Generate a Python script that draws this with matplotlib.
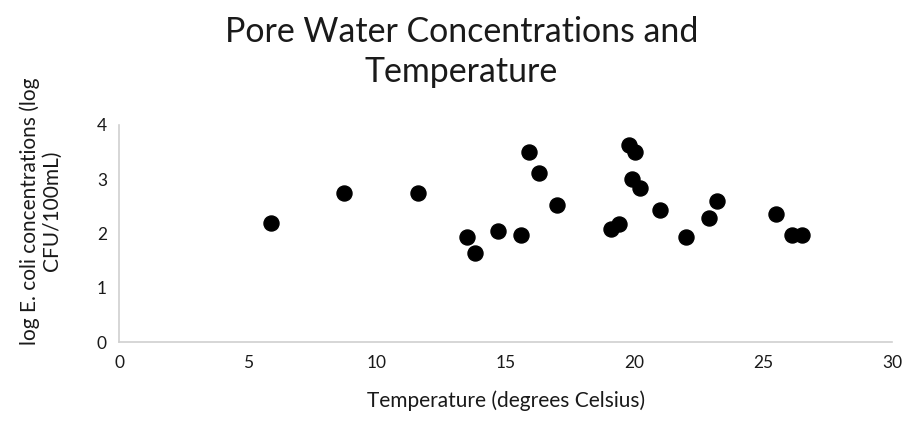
import matplotlib.pyplot as plt

# Données
temperature = [5.9, 8.7, 11.6, 13.5, 13.8, 14.7, 15.6, 15.9, 16.3, 17.0,
               19.1, 19.4, 19.8, 20.0, 19.9, 20.2, 21.0, 22.0, 22.9, 23.2,
               25.5, 26.1, 26.5]
log_ecoli = [2.19, 2.74, 2.74, 1.94, 1.64, 2.04, 1.98, 3.51, 3.11, 2.52,
             2.09, 2.18, 3.64, 3.51, 3.01, 2.84, 2.44, 1.94, 2.29, 2.61,
             2.37, 1.97, 1.97]

x_ticks = [0, 5, 10, 15, 20, 25, 30]
y_ticks = [0, 1, 2, 3, 4]

plt.rcParams['font.family'] = ['Lato', 'DejaVu Sans']

fig = plt.figure(figsize=(9.08, 4.25), dpi=100)
ax = fig.add_axes([0.1316, 0.1946, 0.8508, 0.5113])

ax.scatter(temperature, log_ecoli, s=117, color='black', zorder=3)

ax.set_xlim(0, 30)
ax.set_ylim(0, 4)
ax.set_xticks(x_ticks)
ax.set_yticks(y_ticks)
ax.tick_params(length=0, labelsize=12.5, labelcolor='#1a1a1a', pad=9)

for side in ['top', 'right']:
    ax.spines[side].set_visible(False)
for side in ['left', 'bottom']:
    ax.spines[side].set_color('#d0d0d0')
    ax.spines[side].set_linewidth(1.2)

ax.set_xlabel('Temperature (degrees Celsius)', fontsize=15, color='#1a1a1a', labelpad=14)

# Titre de l'axe Y placé à la main (décalé vers le haut comme dans Excel)
fig.text(0.045, 0.5035, 'log E. coli concentrations (log\nCFU/100mL)',
         rotation=90, ha='center', va='center', fontsize=15, color='#1a1a1a',
         multialignment='center', linespacing=1.15)

fig.text(0.508, 0.963, 'Pore Water Concentrations and\nTemperature',
         ha='center', va='top', fontsize=24.4, color='#1a1a1a', linespacing=1.33)

plt.savefig('out.png', dpi=100)
